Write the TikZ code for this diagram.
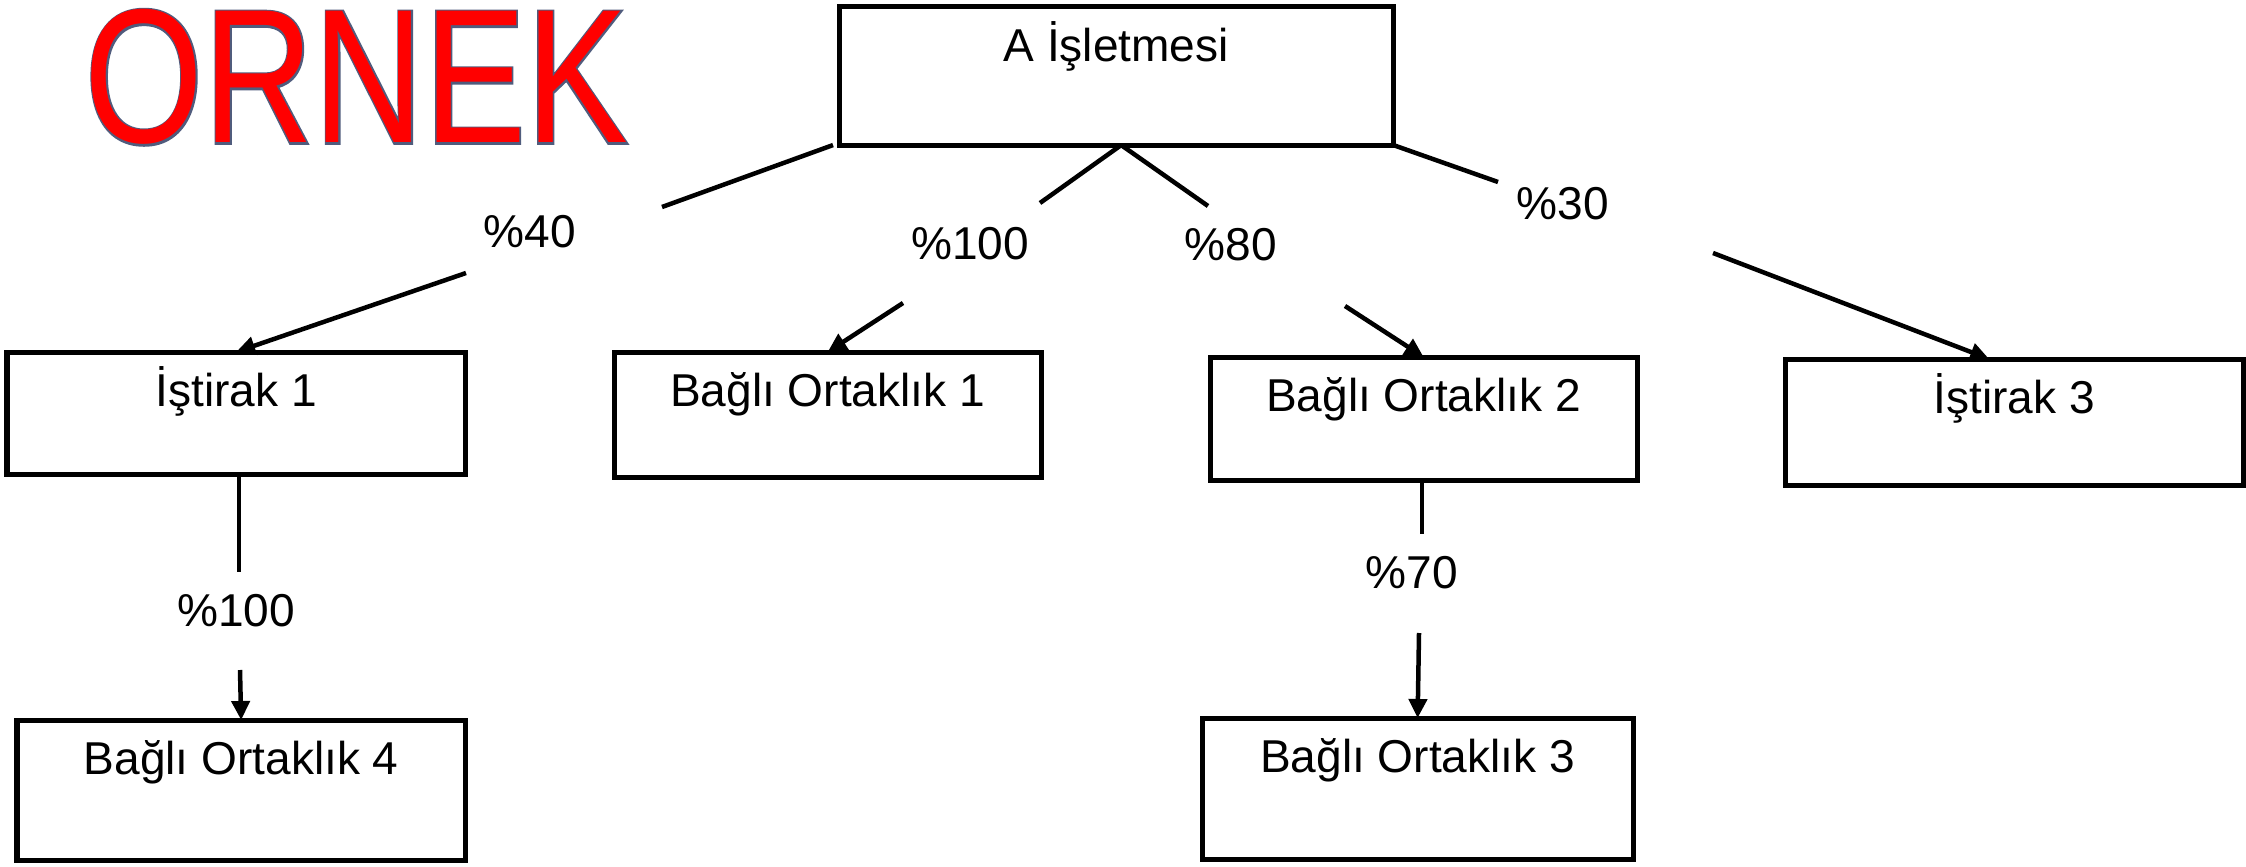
\documentclass[tikz,border=0pt]{standalone}
\usepackage{fontspec}
\setmainfont{Liberation Sans}
\newfontfamily\ornfont[FakeBold=2]{Liberation Sans}
\usetikzlibrary{arrows.meta}
\definecolor{ornred}{RGB}{255,0,0}
\definecolor{ornedge}{RGB}{80,92,125}
\newcommand{\bxt}[3]{\parbox[t][#2][t]{#1}{\centering\rule{0pt}{5.4mm}#3}}
\begin{document}
\begin{tikzpicture}[x=0.01cm,y=-0.01cm,
  bx/.style={draw, line width=0.5mm, inner sep=0pt, outer sep=0pt, anchor=north west,
             font=\fontsize{13.1}{15}\selectfont},
  pct/.style={inner sep=0pt, anchor=base, font=\fontsize{13.1}{15}\selectfont},
  conn/.style={line width=0.45mm},
  arr/.style={conn, -{Triangle[length=1.9mm,width=1.8mm]}}]
\useasboundingbox (0,0) rectangle (2246,867);

% title
\node[inner sep=0pt, anchor=base west, font=\fontsize{54.3}{60}\selectfont] (title) at (84,143)
  {\scalebox{0.8}[1]{\rlap{\ornfont\color{ornedge}ORNEK}\color{ornred}ORNEK}};

% boxes
\node[bx] (A)   at (839,7)   {\bxt{55.4mm}{13.8mm}{A İşletmesi}};
\node[bx] (I1)  at (7,352)   {\bxt{45.8mm}{12.2mm}{İştirak 1}};
\node[bx] (BO1) at (614,352) {\bxt{42.7mm}{12.5mm}{Bağlı Ortaklık 1}};
\node[bx] (BO2) at (1210,357){\bxt{42.7mm}{12.3mm}{Bağlı Ortaklık 2}};
\node[bx] (I3)  at (1785,359){\bxt{45.8mm}{12.6mm}{İştirak 3}};
\node[bx] (BO4) at (17,720)  {\bxt{44.8mm}{14.0mm}{Bağlı Ortaklık 4}};
\node[bx] (BO3) at (1202,718){\bxt{43.1mm}{14.1mm}{Bağlı Ortaklık 3}};

% percentage labels
\node[pct] (p40)  at (530,248)  {\%40};
\node[pct] (p100) at (970,259)  {\%100};
\node[pct] (p80)  at (1231,261) {\%80};
\node[pct] (p30)  at (1563,219) {\%30};
\node[pct] (p100b) at (236,626) {\%100};
\node[pct] (p70)  at (1412,588) {\%70};

% gap ends of connectors
\coordinate (c1a) at (662,207);  \coordinate (c1b) at (466,273);
\coordinate (c2a) at (1040,203); \coordinate (c2b) at (903,303);
\coordinate (c3a) at (1208,206); \coordinate (c3b) at (1345,306);
\coordinate (c4a) at (1498,182); \coordinate (c4b) at (1713,253);
\coordinate (c5a) at (239,572);  \coordinate (c5b) at (240,670);
\coordinate (c6a) at (1422,534); \coordinate (c6b) at (1419,633);

% connectors
\draw[conn] ([xshift=-0.6mm]A.south west) -- (c1a);
\draw[arr]  (c1b) -- (I1.north);
\draw[conn] ([xshift=0.5mm]A.south) -- (c2a);
\draw[arr]  (c2b) -- (BO1.north);
\draw[conn] ([xshift=0.5mm]A.south) -- (c3a);
\draw[arr]  (c3b) -- (BO2.north);
\draw[conn] (A.south east) -- (c4a);
\draw[arr]  (c4b) -- ([xshift=-2.5mm]I3.north);
\draw[conn] (c5a |- I1.south) -- (c5a);
\draw[arr]  (c5b) -- (BO4.north);
\draw[conn] (c6a |- BO2.south) -- (c6a);
\draw[arr]  (c6b) -- (BO3.north);
\end{tikzpicture}
\end{document}
